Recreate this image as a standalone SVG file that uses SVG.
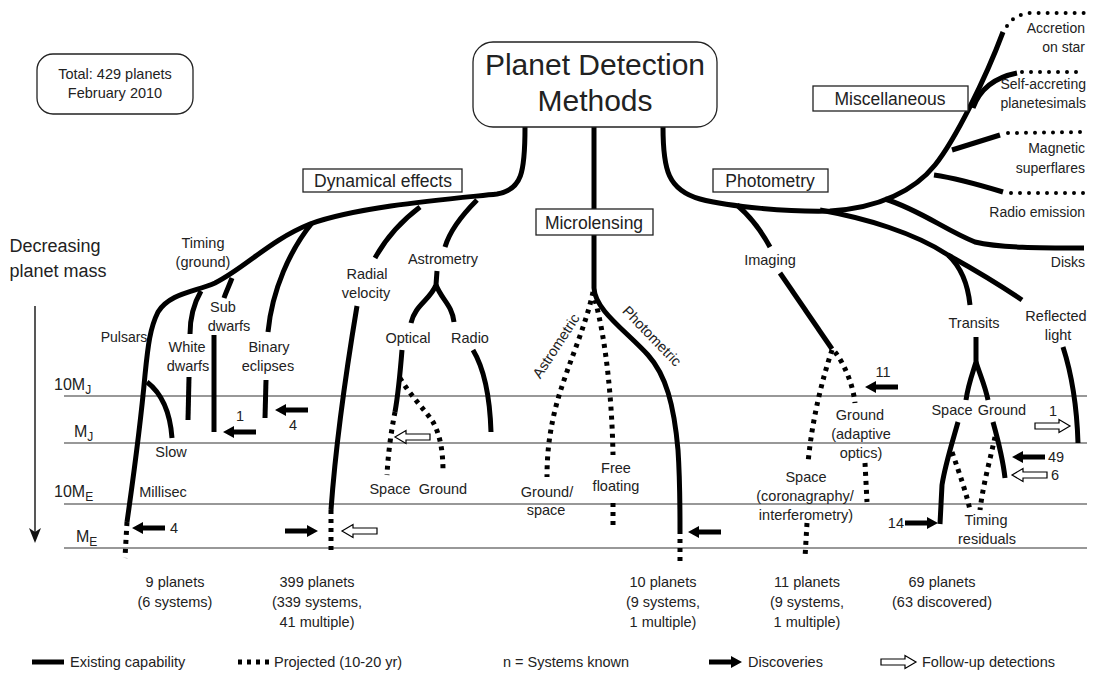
<svg xmlns="http://www.w3.org/2000/svg" xmlns:xlink="http://www.w3.org/1999/xlink" width="1094" height="673" viewBox="0 0 1094 673">
  <style>
    text { font-family: "Liberation Sans", Arial, sans-serif; fill: #222; }
    .t { font-size: 14.5px; text-anchor: middle; }
    .r { font-size: 14px; text-anchor: end; }
    .l { font-size: 14.5px; text-anchor: start; }
    .box { fill: #fff; stroke: #222; stroke-width: 1.3; }
    .boxlabel { font-size: 17.5px; text-anchor: middle; }
    .ax { font-size: 16px; }
    .sub { font-size: 12px; }
    .grid { stroke: #333; stroke-width: 1.1; fill: none; }
    .solid { fill: none; stroke: #000; stroke-width: 5; stroke-linecap: butt; }
    .proj { fill: none; stroke: #000; stroke-width: 5; stroke-dasharray: 4 5; }
    .dots { fill: none; stroke: #000; stroke-width: 4; stroke-linecap: round; stroke-dasharray: 0 9; }
  </style>
  <defs>
    <!-- arrows drawn pointing right, tip at origin -->
    <polygon id="arrowBlack" points="-33,-2.6 -11,-2.6 -11,-6 0,0 -11,6 -11,2.6 -33,2.6" fill="#000"/>
    <polygon id="arrowWhite" points="-35,-3 -11,-3 -11,-6.5 0,0 -11,6.5 -11,3 -35,3" fill="#fff" stroke="#000" stroke-width="1.2"/>
  </defs>
  <rect width="1094" height="673" fill="#fff"/>

  <!-- mass scale -->
  <g id="mass-scale">
    <line class="grid" x1="64" y1="396" x2="1087" y2="396"/>
    <line class="grid" x1="64" y1="443" x2="1087" y2="443"/>
    <line class="grid" x1="64" y1="504" x2="1087" y2="504"/>
    <line class="grid" x1="64" y1="548" x2="1087" y2="548"/>
    <text class="ax" x="54" y="390">10M<tspan class="sub" dy="4">J</tspan></text>
    <text class="ax" x="74" y="437">M<tspan class="sub" dy="4">J</tspan></text>
    <text class="ax" x="54" y="497">10M<tspan class="sub" dy="4">E</tspan></text>
    <text class="ax" x="76" y="542">M<tspan class="sub" dy="4">E</tspan></text>
    <line x1="35" y1="306" x2="35" y2="532" stroke="#111" stroke-width="1.4"/>
    <polygon points="29,528 35,543 41,528 35,532" fill="#111"/>
    <text x="55" y="252" style="font-size:18px;text-anchor:middle">Decreasing</text>
    <text x="58" y="277" style="font-size:18px;text-anchor:middle">planet mass</text>
  </g>

  <!-- connectors: method tree -->
  <g id="connectors">
    <!-- dynamical effects -->
    <path class="solid" d="M525,127 C525,172 522,190 497,194 C450,199 360,206 310,224 C270,240 245,268 215,283 C195,292 170,293 158,312 C150,328 148,345 145,375 C140,430 133,480 127,522"/>
    <path class="proj" d="M127,522 L125,558"/>
    <path class="solid" d="M147,382 C160,392 170,410 172,438"/>
    <path class="solid" d="M201,291 C193,305 190,318 190,334"/>
    <path class="solid" d="M189,377 L188,420"/>
    <path class="solid" d="M232,278 C229,286 226,292 224,298"/>
    <path class="solid" d="M214,335 L214,432"/>
    <path class="solid" d="M312,223 C290,250 272,290 268,332"/>
    <path class="solid" d="M266,380 L265,418"/>
    <path class="solid" d="M420,207 C400,222 385,240 375,258"/>
    <path class="solid" d="M357,306 C348,360 336,440 331,510"/>
    <path class="proj" d="M331,510 L331,553"/>
    <path class="solid" d="M477,200 C462,215 450,230 445,247"/>
    <path class="solid" d="M437,271 L436,285 C430,300 415,305 411,323"/>
    <path class="solid" d="M436,285 C442,300 452,305 454,322"/>
    <path class="solid" d="M402,350 C400,375 398,395 395,412"/>
    <path class="proj" d="M395,412 C391,432 388,455 387,475"/>
    <path class="proj" d="M400,378 C410,395 425,410 433,422 C440,435 443,450 443,472"/>
    <path class="solid" d="M473,350 C485,370 490,400 491,432"/>
    <!-- microlensing -->
    <path class="solid" d="M594,127 L594,209"/>
    <path class="solid" d="M594,235 L594,288 C595,310 625,330 648,355 C666,375 674,405 678,450 C680,480 680,505 680,530"/>
    <path class="proj" d="M680,530 L680,562"/>
    <path class="proj" d="M593,292 C585,330 565,370 555,410 C549,435 547,455 547,477"/>
    <path class="proj" d="M595,300 C606,340 612,400 613,455"/>
    <path class="proj" d="M613,503 L613,530"/>
    <!-- photometry and miscellaneous -->
    <path class="solid" d="M663,127 C663,170 668,190 700,199 C730,207 790,212 830,211 C880,208 915,190 935,165 C955,140 985,80 1003,32"/>
    <path class="dots" d="M1007,26 C1012,18 1020,14 1030,13 L1085,13"/>
    <path class="solid" d="M973,108 C979,91 992,78 1017,73"/>
    <path class="dots" d="M1022,72 L1085,72"/>
    <path class="solid" d="M952,150 L1000,135"/>
    <path class="dots" d="M1008,133 L1085,132"/>
    <path class="solid" d="M934,175 C955,178 980,185 1003,192"/>
    <path class="dots" d="M1011,193 L1085,193"/>
    <path class="solid" d="M885,199 C920,210 945,230 975,242 C1000,248 1040,248 1084,248"/>
    <path class="solid" d="M737,205 C752,218 762,232 770,247"/>
    <path class="solid" d="M780,273 L832,349"/>
    <path class="proj" d="M832,350 C822,380 812,420 808,463"/>
    <path class="proj" d="M807,523 L805,558"/>
    <path class="proj" d="M835,352 C845,365 853,385 855,403"/>
    <path class="proj" d="M865,463 L867,502"/>
    <path class="solid" d="M820,210 C865,218 915,233 948,255 C962,268 968,285 970,305"/>
    <path class="solid" d="M948,255 C975,270 1000,285 1022,300"/>
    <path class="solid" d="M976,337 L976,362 C972,375 968,385 966,400"/>
    <path class="solid" d="M976,362 C980,375 985,385 988,400"/>
    <path class="solid" d="M958,422 C953,440 945,465 942,485 L940,524"/>
    <path class="solid" d="M993,422 C998,440 1003,460 1005,478"/>
    <path class="proj" d="M952,452 C960,475 966,492 970,510"/>
    <path class="proj" d="M995,437 C990,460 983,485 980,510"/>
    <path class="solid" d="M1063,347 C1072,375 1077,410 1078,443"/>
  </g>

  <!-- discovery and follow-up arrows -->
  <g id="arrows">
    <use xlink:href="#arrowBlack" transform="translate(132,528) rotate(180)"/>
    <use xlink:href="#arrowBlack" transform="translate(223,432) rotate(180)"/>
    <use xlink:href="#arrowBlack" transform="translate(275,410) rotate(180)"/>
    <use xlink:href="#arrowBlack" transform="translate(318,531)"/>
    <use xlink:href="#arrowWhite" transform="translate(342,531) rotate(180)"/>
    <use xlink:href="#arrowWhite" transform="translate(395,437) rotate(180)"/>
    <use xlink:href="#arrowBlack" transform="translate(688,532) rotate(180)"/>
    <use xlink:href="#arrowBlack" transform="translate(865,387) rotate(180)"/>
    <use xlink:href="#arrowBlack" transform="translate(938,523)"/>
    <use xlink:href="#arrowBlack" transform="translate(1012,457) rotate(180)"/>
    <use xlink:href="#arrowWhite" transform="translate(1012,475) rotate(180)"/>
    <use xlink:href="#arrowWhite" transform="translate(1070,426)"/>
    <text class="l" x="170" y="533">4</text>
    <text class="t" x="240" y="421">1</text>
    <text class="t" x="293" y="430">4</text>
    <text class="t" x="883" y="377">11</text>
    <text class="r" x="904" y="528" style="font-size:14.5px">14</text>
    <text class="l" x="1048" y="462">49</text>
    <text class="l" x="1051" y="480">6</text>
    <text class="t" x="1053" y="416">1</text>
  </g>

  <!-- title and group nodes -->
  <g id="node-title">
    <rect class="box" x="473" y="42" width="244" height="85" rx="20"/>
    <text x="595" y="75" style="font-size:30px;text-anchor:middle">Planet Detection</text>
    <text x="595" y="111" style="font-size:30px;text-anchor:middle">Methods</text>
  </g>
  <g id="node-total">
    <rect class="box" x="37" y="54" width="156" height="60" rx="16"/>
    <text class="t" x="115" y="79">Total: 429 planets</text>
    <text class="t" x="115" y="98">February 2010</text>
  </g>
  <g id="node-dynamical">
    <rect class="box" x="303" y="169" width="159" height="23"/>
    <text class="boxlabel" x="383" y="187">Dynamical effects</text>
  </g>
  <g id="node-microlensing">
    <rect class="box" x="536" y="209" width="117" height="26"/>
    <text class="boxlabel" x="594" y="229">Microlensing</text>
  </g>
  <g id="node-photometry">
    <rect class="box" x="713" y="169" width="115" height="23"/>
    <text class="boxlabel" x="770" y="187">Photometry</text>
  </g>
  <g id="node-misc">
    <rect class="box" x="813" y="86" width="155" height="25"/>
    <text class="boxlabel" x="890" y="105">Miscellaneous</text>
  </g>

  <!-- method labels -->
  <g id="node-timing"><text class="t" x="203" y="248">Timing</text><text class="t" x="203" y="267">(ground)</text></g>
  <g id="node-pulsars"><text class="t" x="124" y="342" style="font-size:14px">Pulsars</text></g>
  <g id="node-subdwarfs"><text class="t" x="223" y="312">Sub</text><text class="t" x="229" y="331">dwarfs</text></g>
  <g id="node-whitedwarfs"><text class="t" x="187" y="352">White</text><text class="t" x="188" y="371">dwarfs</text></g>
  <g id="node-binary"><text class="t" x="269" y="352">Binary</text><text class="t" x="268" y="371">eclipses</text></g>
  <g id="node-slow"><text class="t" x="171" y="457">Slow</text></g>
  <g id="node-millisec"><text class="t" x="163" y="497">Millisec</text></g>
  <g id="node-rv"><text class="t" x="367" y="279">Radial</text><text class="t" x="366" y="298">velocity</text></g>
  <g id="node-astrometry"><text class="t" x="443" y="264">Astrometry</text></g>
  <g id="node-optical"><text class="t" x="408" y="343">Optical</text></g>
  <g id="node-radio"><text class="t" x="470" y="343">Radio</text></g>
  <g id="node-astro-space"><text class="t" x="390" y="494">Space</text></g>
  <g id="node-astro-ground"><text class="t" x="443" y="494">Ground</text></g>
  <g id="node-astrometric"><text class="t" transform="translate(556,346) rotate(-57)" y="5">Astrometric</text></g>
  <g id="node-photometric"><text class="t" transform="translate(652,336) rotate(46)" y="5">Photometric</text></g>
  <g id="node-groundspace"><text class="t" x="547" y="497">Ground/</text><text class="t" x="546" y="515">space</text></g>
  <g id="node-freefloating"><text class="t" x="616" y="473">Free</text><text class="t" x="616" y="491">floating</text></g>
  <g id="node-imaging"><text class="t" x="770" y="265">Imaging</text></g>
  <g id="node-img-ground"><text class="t" x="860" y="420">Ground</text><text class="t" x="861" y="439">(adaptive</text><text class="t" x="861" y="458">optics)</text></g>
  <g id="node-img-space"><text class="t" x="806" y="482">Space</text><text class="t" x="805" y="501">(coronagraphy/</text><text class="t" x="806" y="520">interferometry)</text></g>
  <g id="node-transits"><text class="t" x="974" y="328">Transits</text></g>
  <g id="node-tr-space"><text class="t" x="952" y="415">Space</text></g>
  <g id="node-tr-ground"><text class="t" x="1002" y="415">Ground</text></g>
  <g id="node-timingres"><text class="t" x="986" y="525">Timing</text><text class="t" x="987" y="544">residuals</text></g>
  <g id="node-reflected"><text class="t" x="1056" y="321">Reflected</text><text class="t" x="1058" y="340">light</text></g>
  <g id="node-disks"><text class="r" x="1085" y="267">Disks</text></g>
  <g id="node-radioemission"><text class="r" x="1085" y="217">Radio emission</text></g>
  <g id="node-magnetic"><text class="r" x="1085" y="153">Magnetic</text><text class="r" x="1085" y="173">superflares</text></g>
  <g id="node-selfaccreting"><text class="r" x="1086" y="89">Self-accreting</text><text class="r" x="1086" y="108">planetesimals</text></g>
  <g id="node-accretion"><text class="r" x="1085" y="33">Accretion</text><text class="r" x="1085" y="52">on star</text></g>

  <!-- counts -->
  <g id="counts">
    <text class="t" x="175" y="587">9 planets</text>
    <text class="t" x="175" y="607">(6 systems)</text>
    <text class="t" x="317" y="587">399 planets</text>
    <text class="t" x="317" y="607">(339 systems,</text>
    <text class="t" x="317" y="627">41 multiple)</text>
    <text class="t" x="663" y="587">10 planets</text>
    <text class="t" x="663" y="607">(9 systems,</text>
    <text class="t" x="663" y="627">1 multiple)</text>
    <text class="t" x="807" y="587">11 planets</text>
    <text class="t" x="807" y="607">(9 systems,</text>
    <text class="t" x="807" y="627">1 multiple)</text>
    <text class="t" x="942" y="587">69 planets</text>
    <text class="t" x="942" y="607">(63 discovered)</text>
  </g>

  <!-- legend -->
  <g id="legend">
    <line class="solid" x1="32" y1="662" x2="64" y2="662"/>
    <text class="l" x="70" y="667">Existing capability</text>
    <line class="proj" x1="238" y1="662" x2="271" y2="662"/>
    <text class="l" x="274" y="667">Projected (10-20 yr)</text>
    <text class="l" x="503" y="667">n = Systems known</text>
    <use xlink:href="#arrowBlack" transform="translate(742,662)"/>
    <text class="l" x="748" y="667">Discoveries</text>
    <use xlink:href="#arrowWhite" transform="translate(916,662)"/>
    <text class="l" x="922" y="667">Follow-up detections</text>
  </g>
</svg>
